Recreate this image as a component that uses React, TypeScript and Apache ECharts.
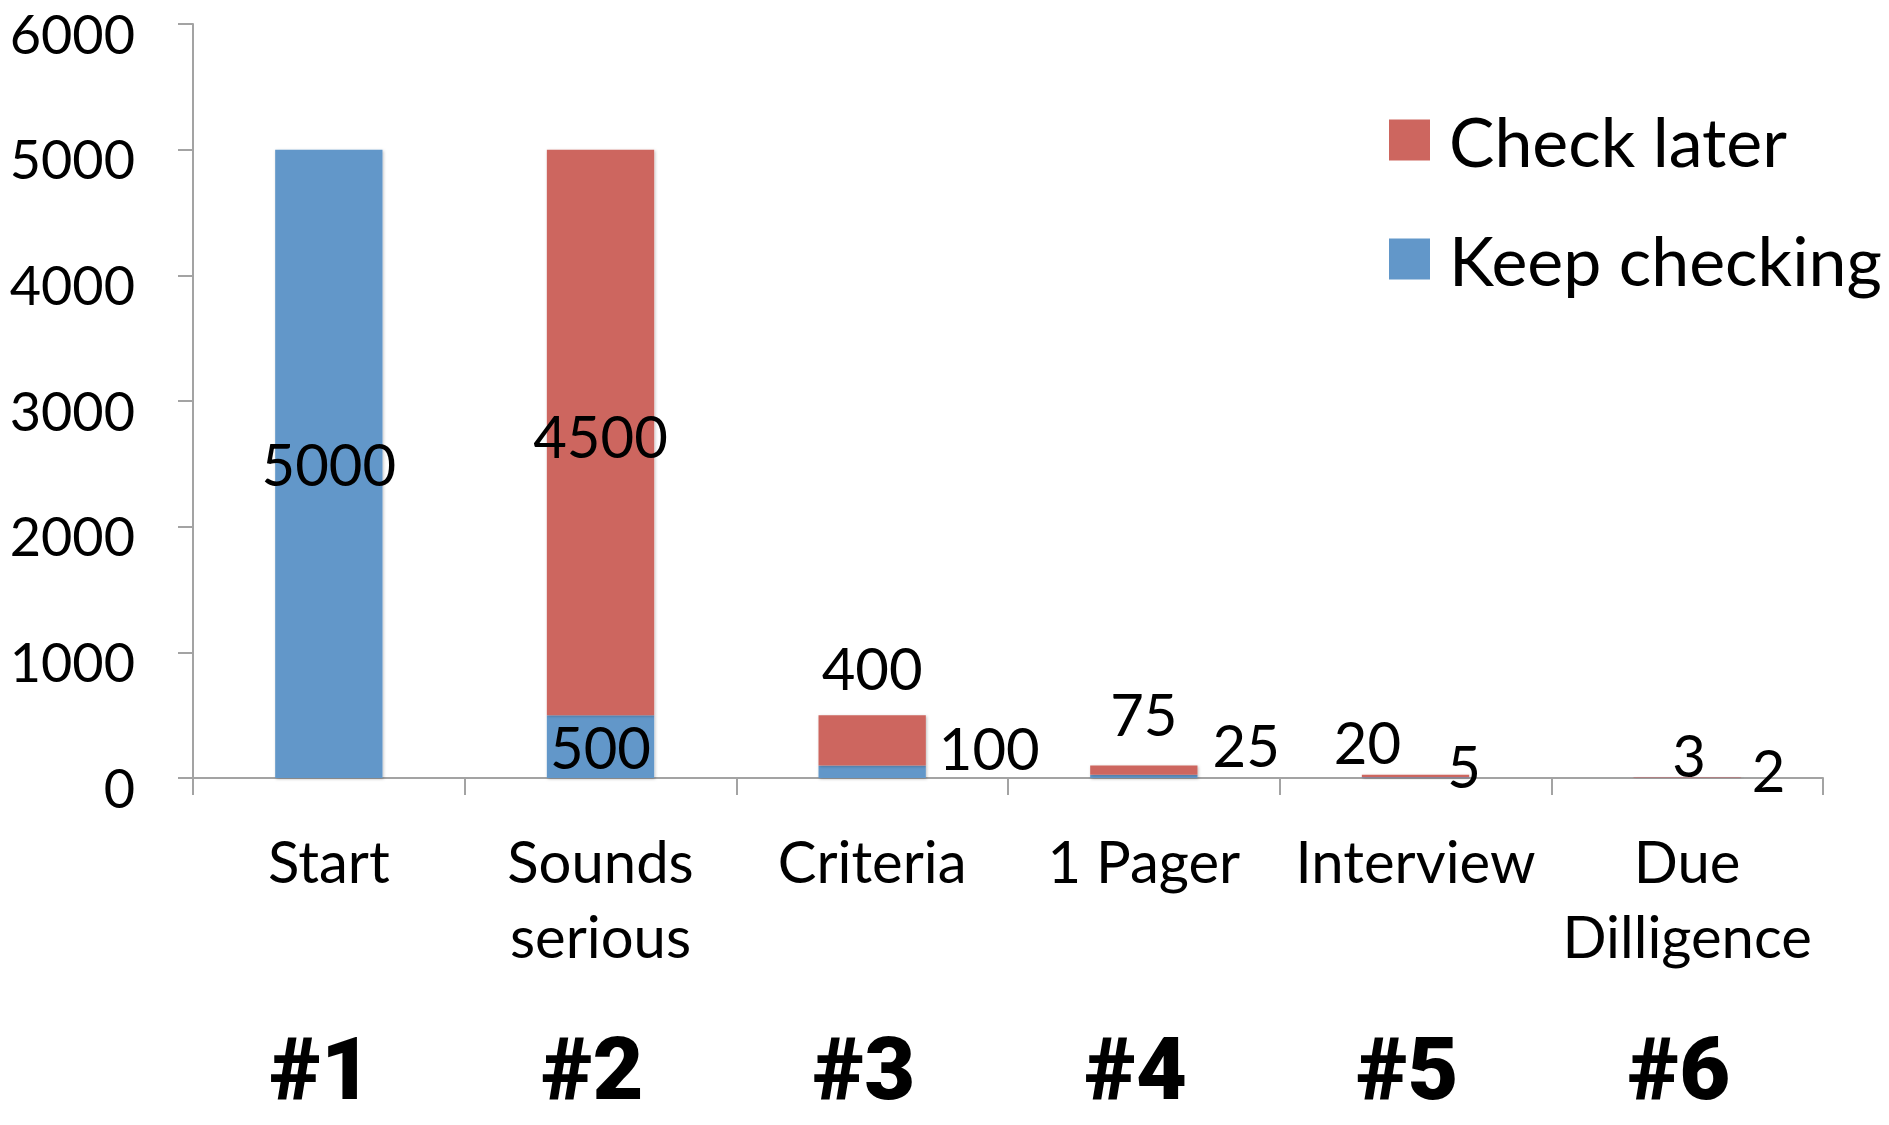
import React, { useEffect, useRef } from "react";
import * as echarts from "echarts";

const categories = ["Start", "Sounds\nserious", "Criteria", "1 Pager", "Interview", "Due\nDilligence"];
const ranks = ["#1", "#2", "#3", "#4", "#5", "#6"];
const keepChecking = [5000, 500, 100, 25, 5, 2];
const checkLater: (number | null)[] = [null, 4500, 400, 75, 20, 3];
const yMin = 0;
const yMax = 6000;
const yInterval = 1000;
const seriesNames = ["Check later", "Keep checking"];

// label placement styles (kept apart from the data)
const keepLabelPlacement: any[] = [
  { position: "inside" },
  { position: "inside" },
  { position: "right", offset: [8, -24] },
  { position: "right", offset: [10, -32] },
  { position: "right", offset: [-27, -12] },
  { position: "right", offset: [6, -8] },
];
const laterLabelPlacement: any[] = [
  null,
  { position: "inside", offset: [0, 3] },
  { position: "top", offset: [0, -14] },
  { position: "top", offset: [0, -18] },
  { position: "top", offset: [-48, 1] },
  { position: "top", offset: [2, 11] },
];

const BLUE = "#6297C9";
const RED = "#CD665F";
const AXIS = "#A3A3A3";
const FONT = "Lato, 'Open Sans', sans-serif";
const LABEL_SIZE = 58;

export default function App() {
  const ref = useRef<HTMLDivElement>(null);
  useEffect(() => {
    document.body.style.margin = "0";
    const chart = echarts.init(ref.current!, null, { renderer: "svg" });
    const mk = (vals: (number | null)[], placements: any[]) =>
      vals.map((v, i) => ({
        value: v,
        label: placements[i]
          ? { show: true, ...placements[i] }
          : { show: false },
      }));
    const barStyle = (c: string) => ({
      color: c,
      shadowColor: "rgba(0,0,0,0.25)",
      shadowBlur: 3,
      shadowOffsetX: 1,
      shadowOffsetY: 1,
    });
    const labelBase = {
      fontFamily: FONT,
      fontSize: LABEL_SIZE,
      color: "#000",
      distance: 5,
    };
    chart.setOption({
      animation: false,
      backgroundColor: "#fff",
      textStyle: { fontFamily: FONT },
      grid: {
        left: 193,
        top: 24,
        right: 66,
        bottom: 347,
        containLabel: false,
        outerBoundsMode: "none",
      },
      legend: {
        orient: "vertical",
        left: 1389,
        top: 101,
        padding: 0,
        data: [seriesNames[0], seriesNames[1]],
        icon: "rect",
        itemWidth: 41,
        itemHeight: 41,
        itemGap: 41,
        selectedMode: false,
        textStyle: {
          fontFamily: FONT,
          fontSize: 68,
          lineHeight: 72,
          color: "#000",
          padding: [6, 0, 0, 14],
        },
      },
      xAxis: [
        {
          type: "category",
          data: categories,
          position: "bottom",
          axisLine: { show: true, lineStyle: { color: AXIS, width: 2 } },
          axisTick: { show: true, length: 17, lineStyle: { color: AXIS, width: 2 } },
          axisLabel: {
            fontFamily: FONT,
            fontSize: LABEL_SIZE,
            lineHeight: 75,
            color: "#000",
            margin: 45,
            interval: 0,
          },
        },
        {
          type: "category",
          data: ranks,
          position: "bottom",
          axisLine: { show: false },
          axisTick: { show: false },
          axisLabel: {
            fontFamily: "Roboto, 'DejaVu Sans', sans-serif",
            fontWeight: 900,
            fontSize: 88,
            lineHeight: 88,
            color: "#000",
            margin: 246,
            padding: [0, 16, 0, 0],
            interval: 0,
          },
        },
      ],
      yAxis: {
        type: "value",
        min: yMin,
        max: yMax,
        interval: yInterval,
        splitLine: { show: false },
        axisLine: { show: true, lineStyle: { color: AXIS, width: 2 } },
        axisTick: { show: true, length: 15, lineStyle: { color: AXIS, width: 2 } },
        axisLabel: {
          fontFamily: FONT,
          fontSize: 54,
          lineHeight: 18,
          verticalAlign: "top",
          color: "#000",
          margin: 58,
          formatter: (v: number) => String(v),
        },
      },
      series: [
        {
          name: seriesNames[1],
          type: "bar",
          stack: "total",
          barWidth: "39.5%",
          itemStyle: barStyle(BLUE),
          label: labelBase,
          data: mk(keepChecking, keepLabelPlacement),
        },
        {
          name: seriesNames[0],
          type: "bar",
          stack: "total",
          barWidth: "39.5%",
          itemStyle: barStyle(RED),
          label: labelBase,
          data: mk(checkLater, laterLabelPlacement),
        },
      ],
    });
    return () => chart.dispose();
  }, []);
  return (
    <div
      ref={ref}
      style={{ position: "fixed", left: 0, top: 0, width: 1889, height: 1125, background: "#fff" }}
    />
  );
}
